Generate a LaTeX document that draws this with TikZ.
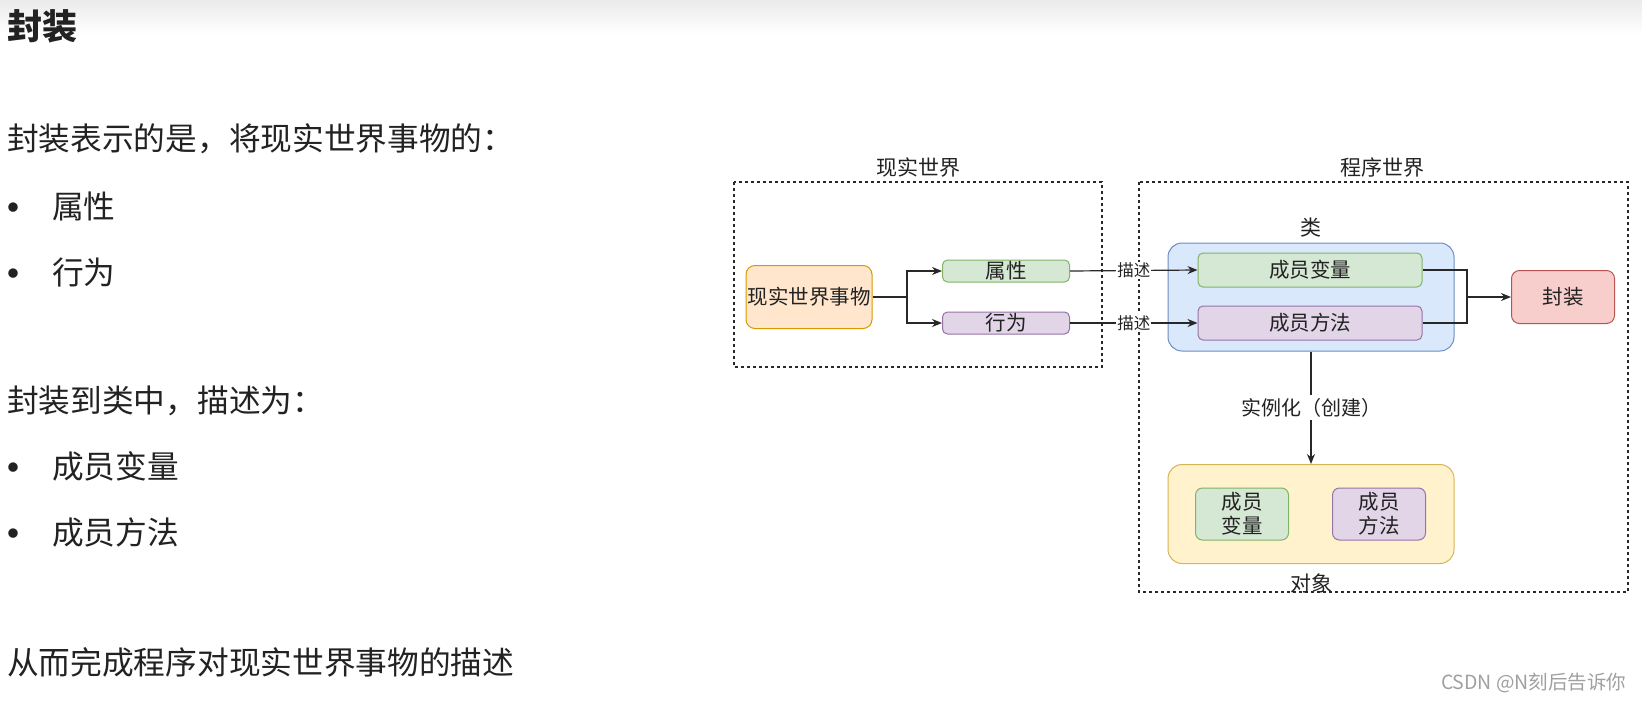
\documentclass[tikz,border=0pt]{standalone}
\usepackage{fontspec}
\setmainfont{Noto Sans CJK SC}
\usetikzlibrary{positioning,arrows.meta,calc}
\definecolor{EncInk}{RGB}{34,34,34}
\definecolor{EncLine}{RGB}{40,40,40}
\definecolor{EncMark}{RGB}{160,160,160}
\definecolor{EncOrange}{RGB}{255,230,204}
\definecolor{EncOrangeLine}{RGB}{215,155,0}
\definecolor{EncGreen}{RGB}{213,232,212}
\definecolor{EncGreenLine}{RGB}{130,179,102}
\definecolor{EncPurple}{RGB}{225,213,231}
\definecolor{EncPurpleLine}{RGB}{150,115,166}
\definecolor{EncBlue}{RGB}{218,232,252}
\definecolor{EncBlueLine}{RGB}{108,142,191}
\definecolor{EncRed}{RGB}{248,206,204}
\definecolor{EncRedLine}{RGB}{184,84,80}
\definecolor{EncYellow}{RGB}{255,242,204}
\definecolor{EncYellowLine}{RGB}{214,182,86}
\tikzset{
  enc box/.style={
    line width=1pt,
    rounded corners=5pt,
    align=center,
    font=\fontsize{20.5}{24}\selectfont,
    text=EncInk,
    inner sep=0pt
  },
  enc thing/.style={enc box, fill=EncOrange, draw=EncOrangeLine, minimum width=126pt, minimum height=63pt, rounded corners=9pt},
  enc attr/.style={enc box, fill=EncGreen, draw=EncGreenLine},
  enc act/.style={enc box, fill=EncPurple, draw=EncPurpleLine},
  enc class/.style={enc box, fill=EncBlue, draw=EncBlueLine, minimum width=286pt, minimum height=108pt, rounded corners=14pt},
  enc obj/.style={enc box, fill=EncYellow, draw=EncYellowLine, minimum width=286pt, minimum height=99pt, rounded corners=14pt},
  enc wrap/.style={enc box, fill=EncRed, draw=EncRedLine, minimum width=103pt, minimum height=53pt, rounded corners=8pt},
  enc frame/.style={draw=EncLine, line width=1.1pt, dash pattern=on 3pt off 3pt},
  enc line/.style={draw=EncLine, line width=1.2pt},
  enc arrow/.style={enc line, -{Stealth[length=10pt, width=8pt]}},
  enc label/.style={font=\fontsize{21}{25}\selectfont, text=EncInk},
  enc tag/.style={font=\fontsize{16.5}{19}\selectfont, text=EncInk, fill=white, inner sep=1pt},
  enc text/.style={font=\fontsize{31.7}{38}\selectfont, text=EncInk, anchor=west, inner sep=0pt},
  enc dot/.style={font=\fontsize{34}{40}\selectfont\bfseries, text=EncInk, inner sep=0pt}
}

\begin{document}
\begin{tikzpicture}[x=1pt, y=-1pt]
\useasboundingbox[fill=white] (0,0) rectangle (1642,702);
\fill[top color=gray!16, bottom color=white] (0,0) rectangle (1642,34);

% text on the left
\node[enc text, font=\fontsize{35}{41}\selectfont\bfseries] (title) at (7,26) {封装};
\node[enc text] (intro) at (7,139) {封装表示的是，将现实世界事物的：};
\node[enc dot] (d1) at (14,212) {•};
\node[enc text] (bAttr) at (52,206) {属性};
\node[enc dot] (d2) at (14,278) {•};
\node[enc text] (bAct) at (52,272) {行为};
\node[enc text] (mid) at (7,401) {封装到类中，描述为：};
\node[enc dot] (d3) at (14,472) {•};
\node[enc text] (bVar) at (52,466) {成员变量};
\node[enc dot] (d4) at (14,538) {•};
\node[enc text] (bMeth) at (52,532) {成员方法};
\node[enc text] (outro) at (7,662) {从而完成程序对现实世界事物的描述};

% real world
\draw[enc frame] (734,182) rectangle (1102,367);
\node[enc label] (realLbl) at (918,168) {现实世界};
\node[enc thing] (thing) at (809,297) {现实世界事物};
\node[enc attr, minimum width=127pt, minimum height=22pt] (attr) at (1006,271) {属性};
\node[enc act, minimum width=127pt, minimum height=22pt] (act) at (1006,323) {行为};
\coordinate (fork) at (907,297);
\draw[enc line] (thing.east) -- (fork);
\draw[enc arrow] (fork) |- (attr.west);
\draw[enc arrow] (fork) |- (act.west);

% program world
\draw[enc frame] (1139,182) rectangle (1628,592);
\node[enc label] (progLbl) at (1382,168) {程序世界};
\node[enc class] (cls) at (1311,297) {};
\node[enc label, above=2pt of cls] (clsLbl) {类};
\node[enc attr, minimum width=224pt, minimum height=34pt] (mVar) at (1310,270) {成员变量};
\node[enc act, minimum width=224pt, minimum height=34pt] (mMeth) at (1310,323) {成员方法};
\node[enc wrap] (wrap) at (1563,297) {封装};
\coordinate (join) at (1467,297);
\draw[enc line] (mVar.east) -| (join);
\draw[enc line] (mMeth.east) -| (join);
\draw[enc arrow] (join) -- (wrap.west);
\draw[enc arrow] (attr.east) -- node[enc tag] {描述} (mVar.west);
\draw[enc arrow] (act.east) -- node[enc tag] {描述} (mMeth.west);

% object
\node[enc obj] (obj) at (1311,514) {};
\node[enc label, below=6pt of obj] (objLbl) {对象};
\node[enc attr, minimum width=93pt, minimum height=52pt, rounded corners=7pt] (oVar) at (1242,514) {成员\\变量};
\node[enc act, minimum width=93pt, minimum height=52pt, rounded corners=7pt] (oMeth) at (1379,514) {成员\\方法};
\draw[enc arrow] (cls.south) -- node[enc tag, font=\fontsize{20}{24}\selectfont, inner sep=3pt] {实例化（创建）} (obj.north);

\node[font=\fontsize{19.5}{23}\selectfont, text=EncMark, anchor=east] (mark) at (1630,683) {CSDN @N刻后告诉你};
\end{tikzpicture}
\end{document}
